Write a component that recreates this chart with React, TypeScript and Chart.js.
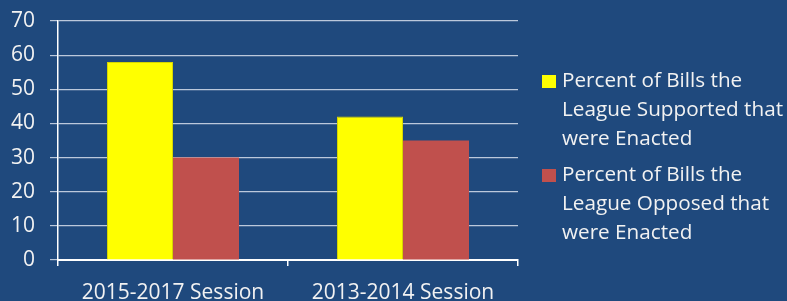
import React, { useEffect, useRef } from "react";
import { Chart, registerables } from "chart.js";

Chart.register(...registerables);

const categories = ["2015-2017 Session", "2013-2014 Session"];
const supported = [58, 42];
const opposed = [30, 35];
const seriesNames = [
  ["Percent of Bills the", "League Supported that", "were Enacted"],
  ["Percent of Bills the", "League Opposed that", "were Enacted"],
];
const seriesColors = ["#FFFF00", "#C0504D"];

const BG = "#1F497D";
const FONT = "'Open Sans', sans-serif";

export default function App() {
  const ref = useRef<HTMLCanvasElement | null>(null);

  useEffect(() => {
    if (!ref.current) return;
    const bgPlugin = {
      id: "bg",
      beforeDraw(chart: any) {
        const ctx = chart.ctx;
        ctx.save();
        ctx.fillStyle = BG;
        ctx.fillRect(0, 0, chart.width, chart.height);
        ctx.restore();
      },
    };
    const chart = new Chart(ref.current, {
      type: "bar",
      data: {
        labels: categories,
        datasets: [
          {
            label: seriesNames[0].join(" "),
            data: supported,
            backgroundColor: seriesColors[0],
            borderColor: "#d6d600",
            borderWidth: 1,
            barPercentage: 1,
            categoryPercentage: 0.574,
          },
          {
            label: seriesNames[1].join(" "),
            data: opposed,
            backgroundColor: seriesColors[1],
            borderWidth: 0,
            barPercentage: 1,
            categoryPercentage: 0.574,
          },
        ],
      },
      options: {
        animation: false,
        responsive: false,
        maintainAspectRatio: false,
        layout: { padding: { left: 0, right: 269, top: 21, bottom: 0 } },
        plugins: {
          legend: { display: false },
          tooltip: { enabled: false },
        },
        scales: {
          x: {
            grid: {
              drawOnChartArea: false,
              drawTicks: true,
              tickLength: 6,
              color: "#ffffff",
              lineWidth: 1.5,
              offset: true,
            },
            border: { color: "#ffffff", width: 2 },
            ticks: {
              color: "#f2f2f2",
              font: { family: FONT, size: 21 },
              padding: 14,
              maxRotation: 0,
            },
            afterFit(scale: any) {
              scale.height = 41;
              scale.paddingLeft = 0;
              scale.paddingRight = 0;
            },
          },
          y: {
            min: 0,
            max: 70,
            ticks: {
              stepSize: 10,
              color: "#f2f2f2",
              font: { family: FONT, size: 21 },
              padding: 15,
            },
            grid: {
              color: "rgba(215,222,235,0.85)",
              lineWidth: 1.2,
              tickLength: 8,
            },
            border: { color: "#ffffff", width: 1.5 },
            afterFit(scale: any) {
              scale.width = 58;
              scale.paddingTop = 10;
              scale.paddingBottom = 0;
            },
          },
        },
      },
      plugins: [bgPlugin],
    });
    return () => chart.destroy();
  }, []);

  const legendItem = (i: number, top: number) => (
    <div
      key={i}
      style={{
        position: "absolute",
        left: 542,
        top,
        display: "flex",
        alignItems: "flex-start",
      }}
    >
      <div
        style={{
          width: 14,
          height: 13,
          background: seriesColors[i],
          marginTop: 10,
          marginRight: 6,
        }}
      />
      <div
        style={{
          fontFamily: FONT,
          fontSize: 20.7,
          lineHeight: "29px",
          color: "#f2f2f2",
          whiteSpace: "nowrap",
        }}
      >
        {seriesNames[i].map((s, k) => (
          <div key={k}>{s}</div>
        ))}
      </div>
    </div>
  );

  return (
    <div
      style={{
        position: "fixed",
        left: 0,
        top: 0,
        width: 787,
        height: 301,
        background: BG,
        overflow: "hidden",
      }}
    >
      <canvas ref={ref} width={787} height={301} style={{ display: "block" }} />
      {legendItem(0, 65)}
      {legendItem(1, 159)}
    </div>
  );
}
